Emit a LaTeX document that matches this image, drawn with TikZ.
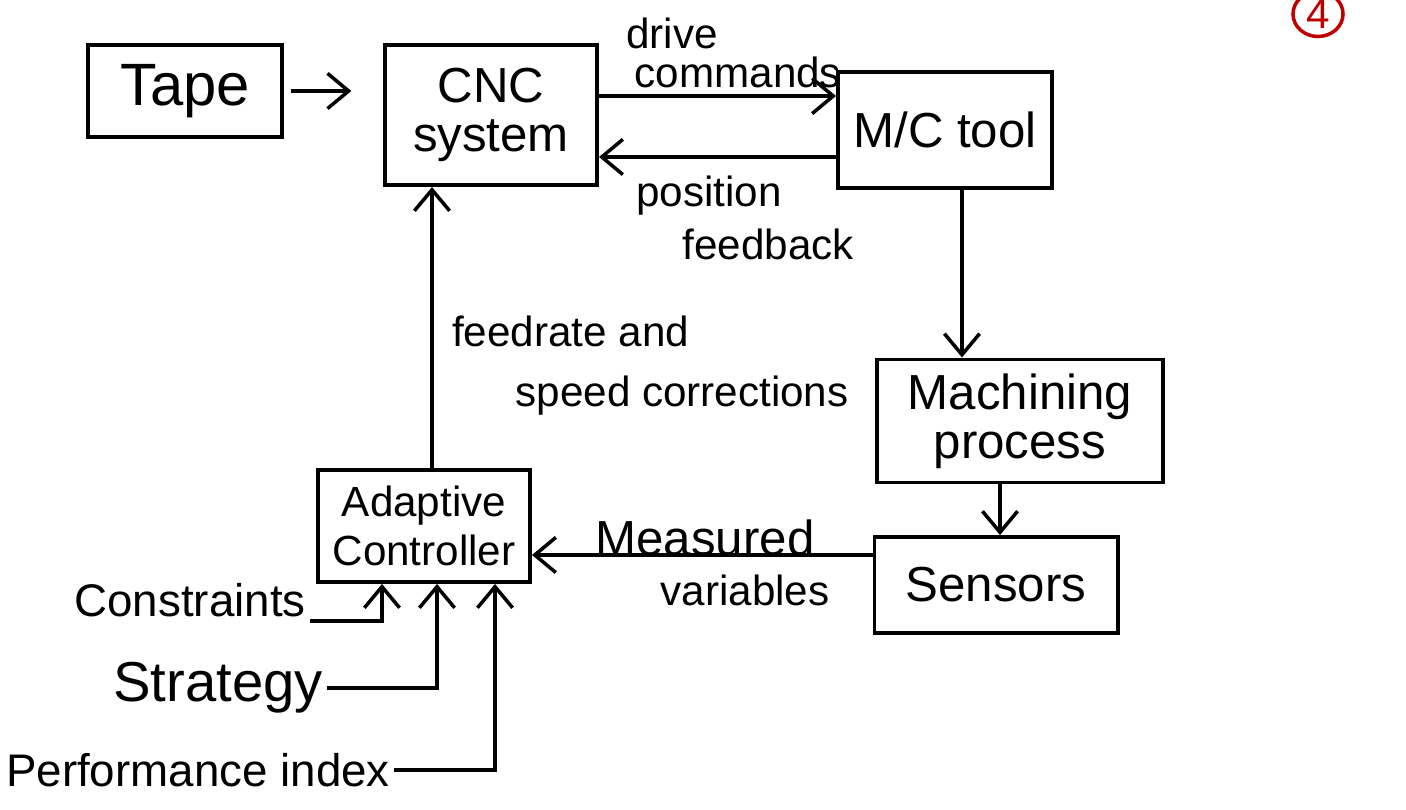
\documentclass[tikz,border=0pt]{standalone}
\usepackage{fontspec}
\setmainfont{Liberation Sans}
\usetikzlibrary{arrows.meta,positioning,shapes.geometric}
\tikzset{
  blk/.style={draw, line width=1.1pt, align=center, font=\fontsize{14}{14}\selectfont, inner sep=2pt},
  lbl/.style={align=left, font=\fontsize{12}{11}\selectfont, inner sep=1pt},
  inlbl/.style={font=\fontsize{13}{16}\selectfont, inner sep=1pt},
  arr/.style={line width=1pt, -{Straight Barb[length=6pt,width=10pt,line width=1pt]}},
  ln/.style={line width=1pt}
}
\begin{document}
\begin{tikzpicture}[x=0.01cm,y=-0.01cm]
\useasboundingbox (0,0) rectangle (1406,810);
% blocks
\node[blk, minimum width=1.94cm, minimum height=0.92cm, font=\fontsize{17}{18}\selectfont] (tape) at (185,91) {Tape};
\node[blk, minimum width=2.12cm, minimum height=1.40cm] (cnc) at (491,115) {CNC\\system};
\node[blk, minimum width=2.14cm, minimum height=1.16cm] (mc) at (945,130) {M/C tool};
\node[blk, minimum width=2.85cm, minimum height=1.23cm] (mach) at (1020,421) {Machining\\process};
\node[blk, minimum width=2.43cm, minimum height=0.96cm] (sens) at (996,585) {Sensors};
\node[blk, minimum width=2.12cm, minimum height=1.12cm, font=\fontsize{12}{14}\selectfont] (ac) at (424,526) {Adaptive\\Controller};
% helper heights
\coordinate (yA) at (0,96);
\coordinate (yB) at (0,157);
\coordinate (yM) at (0,555);
\coordinate (xD) at (962,0);
\coordinate (xS) at (1000,0);
\coordinate (xF) at (432,0);
% connectors
\draw[arr, shorten <=2pt, shorten >=9pt] (tape.east) -- (tape.east -| cnc.west);
\draw[arr] (cnc.east |- yA) -- (mc.west |- yA);
\draw[arr] (mc.west |- yB) -- (cnc.east |- yB);
\draw[arr] (mc.south -| xD) -- (mach.north -| xD);
\draw[arr] (mach.south -| xS) -- (sens.north -| xS);
\draw[arr] (sens.west |- yM) -- (ac.east |- yM);
\draw[arr] (ac.north -| xF) -- (cnc.south -| xF);
% connector labels
\node[lbl, anchor=south west] (dc) at (622,92) {drive\\\hspace*{0.2em}commands};
\node[lbl, anchor=north west, font=\fontsize{12}{15}\selectfont] (pf) at (632,172) {position\\\hspace*{1.1em}feedback};
\node[lbl, anchor=north west, font=\fontsize{12}{17}\selectfont] (fs) at (448,312) {feedrate and\\\hspace*{1.5em}speed corrections};
\node[inlbl, font=\fontsize{14}{14}\selectfont] (mv) at (705,538) {Measured};
\node[inlbl, font=\fontsize{12}{14}\selectfont] (mv2) at (745,590) {variables};
% inputs to adaptive controller
\node[inlbl] (cons) at (190,600) {Constraints};
\node[inlbl, font=\fontsize{16}{19}\selectfont] (strat) at (218,688) {Strategy};
\node[inlbl] (perf) at (198,770) {Performance index};
\draw[arr] (cons.south east) -| ([xshift=-0.42cm]ac.south);
\draw[arr] (strat.east) -| ([xshift=0.13cm]ac.south);
\draw[arr] (perf.east) -| ([xshift=0.71cm]ac.south);
% page mark
\node[draw=red!75!black, line width=1pt, ellipse, text=red!75!black, minimum width=0.5cm, minimum height=0.45cm, inner sep=0pt, font=\fontsize{12}{14}\selectfont] (pg) at (1318,14) {4};
\end{tikzpicture}
\end{document}
